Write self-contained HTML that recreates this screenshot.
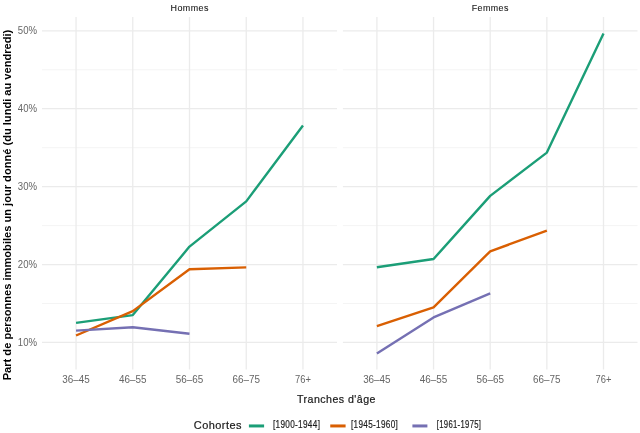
<!DOCTYPE html><html><head><meta charset="utf-8"><style>html,body{margin:0;padding:0;background:#fff;}svg{display:block;will-change:transform;}text{font-family:"Liberation Sans",sans-serif;}</style></head><body>
<svg width="640" height="433" viewBox="0 0 640 433">
<rect width="640" height="433" fill="#fff"/>
<line x1="42.0" x2="337.0" y1="303.50" y2="303.50" stroke="#EBEBEB" stroke-width="0.55"/>
<line x1="42.0" x2="337.0" y1="225.58" y2="225.58" stroke="#EBEBEB" stroke-width="0.55"/>
<line x1="42.0" x2="337.0" y1="147.67" y2="147.67" stroke="#EBEBEB" stroke-width="0.55"/>
<line x1="42.0" x2="337.0" y1="69.76" y2="69.76" stroke="#EBEBEB" stroke-width="0.55"/>
<line x1="42.0" x2="337.0" y1="342.45" y2="342.45" stroke="#EBEBEB" stroke-width="1.3"/>
<line x1="42.0" x2="337.0" y1="264.54" y2="264.54" stroke="#EBEBEB" stroke-width="1.3"/>
<line x1="42.0" x2="337.0" y1="186.63" y2="186.63" stroke="#EBEBEB" stroke-width="1.3"/>
<line x1="42.0" x2="337.0" y1="108.72" y2="108.72" stroke="#EBEBEB" stroke-width="1.3"/>
<line x1="42.0" x2="337.0" y1="30.81" y2="30.81" stroke="#EBEBEB" stroke-width="1.3"/>
<line x1="76.04" x2="76.04" y1="17.0" y2="369.5" stroke="#EBEBEB" stroke-width="1.3"/>
<line x1="132.77" x2="132.77" y1="17.0" y2="369.5" stroke="#EBEBEB" stroke-width="1.3"/>
<line x1="189.50" x2="189.50" y1="17.0" y2="369.5" stroke="#EBEBEB" stroke-width="1.3"/>
<line x1="246.23" x2="246.23" y1="17.0" y2="369.5" stroke="#EBEBEB" stroke-width="1.3"/>
<line x1="302.96" x2="302.96" y1="17.0" y2="369.5" stroke="#EBEBEB" stroke-width="1.3"/>
<line x1="342.9" x2="637.5" y1="303.50" y2="303.50" stroke="#EBEBEB" stroke-width="0.55"/>
<line x1="342.9" x2="637.5" y1="225.58" y2="225.58" stroke="#EBEBEB" stroke-width="0.55"/>
<line x1="342.9" x2="637.5" y1="147.67" y2="147.67" stroke="#EBEBEB" stroke-width="0.55"/>
<line x1="342.9" x2="637.5" y1="69.76" y2="69.76" stroke="#EBEBEB" stroke-width="0.55"/>
<line x1="342.9" x2="637.5" y1="342.45" y2="342.45" stroke="#EBEBEB" stroke-width="1.3"/>
<line x1="342.9" x2="637.5" y1="264.54" y2="264.54" stroke="#EBEBEB" stroke-width="1.3"/>
<line x1="342.9" x2="637.5" y1="186.63" y2="186.63" stroke="#EBEBEB" stroke-width="1.3"/>
<line x1="342.9" x2="637.5" y1="108.72" y2="108.72" stroke="#EBEBEB" stroke-width="1.3"/>
<line x1="342.9" x2="637.5" y1="30.81" y2="30.81" stroke="#EBEBEB" stroke-width="1.3"/>
<line x1="376.89" x2="376.89" y1="17.0" y2="369.5" stroke="#EBEBEB" stroke-width="1.3"/>
<line x1="433.55" x2="433.55" y1="17.0" y2="369.5" stroke="#EBEBEB" stroke-width="1.3"/>
<line x1="490.20" x2="490.20" y1="17.0" y2="369.5" stroke="#EBEBEB" stroke-width="1.3"/>
<line x1="546.85" x2="546.85" y1="17.0" y2="369.5" stroke="#EBEBEB" stroke-width="1.3"/>
<line x1="603.51" x2="603.51" y1="17.0" y2="369.5" stroke="#EBEBEB" stroke-width="1.3"/>
<polyline points="76.04,322.90 132.77,315.10 189.50,246.60 246.23,201.40 302.96,125.50" fill="none" stroke="#1B9E77" stroke-width="2.4" stroke-linejoin="round" stroke-linecap="butt"/>
<polyline points="76.04,335.50 132.77,311.10 189.50,269.30 246.23,267.40" fill="none" stroke="#D95F02" stroke-width="2.4" stroke-linejoin="round" stroke-linecap="butt"/>
<polyline points="76.04,330.60 132.77,327.30 189.50,333.70" fill="none" stroke="#7570B3" stroke-width="2.4" stroke-linejoin="round" stroke-linecap="butt"/>
<polyline points="376.89,267.20 433.55,259.00 490.20,195.90 546.85,152.60 603.51,33.40" fill="none" stroke="#1B9E77" stroke-width="2.4" stroke-linejoin="round" stroke-linecap="butt"/>
<polyline points="376.89,326.20 433.55,307.30 490.20,251.30 546.85,230.70" fill="none" stroke="#D95F02" stroke-width="2.4" stroke-linejoin="round" stroke-linecap="butt"/>
<polyline points="376.89,353.40 433.55,317.40 490.20,293.40" fill="none" stroke="#7570B3" stroke-width="2.4" stroke-linejoin="round" stroke-linecap="butt"/>
<text x="189.7" y="10.9" font-size="9.9" fill="#1A1A1A" stroke="#1A1A1A" stroke-width="0.12" letter-spacing="0.5" text-anchor="middle" textLength="38.4" lengthAdjust="spacingAndGlyphs">Hommes</text>
<text x="490.3" y="10.9" font-size="9.9" fill="#1A1A1A" stroke="#1A1A1A" stroke-width="0.12" letter-spacing="0.5" text-anchor="middle" textLength="37.2" lengthAdjust="spacingAndGlyphs">Femmes</text>
<text x="37" y="346.05" font-size="10.0" fill="#666" text-anchor="end" textLength="19.2" lengthAdjust="spacingAndGlyphs">10%</text>
<text x="37" y="268.14" font-size="10.0" fill="#666" text-anchor="end" textLength="19.2" lengthAdjust="spacingAndGlyphs">20%</text>
<text x="37" y="190.23" font-size="10.0" fill="#666" text-anchor="end" textLength="19.2" lengthAdjust="spacingAndGlyphs">30%</text>
<text x="37" y="112.32" font-size="10.0" fill="#666" text-anchor="end" textLength="19.2" lengthAdjust="spacingAndGlyphs">40%</text>
<text x="37" y="34.41" font-size="10.0" fill="#666" text-anchor="end" textLength="19.2" lengthAdjust="spacingAndGlyphs">50%</text>
<text x="76.04" y="382.6" font-size="10.6" fill="#666" text-anchor="middle" textLength="27.5" lengthAdjust="spacingAndGlyphs">36–45</text>
<text x="132.77" y="382.6" font-size="10.6" fill="#666" text-anchor="middle" textLength="27.5" lengthAdjust="spacingAndGlyphs">46–55</text>
<text x="189.50" y="382.6" font-size="10.6" fill="#666" text-anchor="middle" textLength="27.5" lengthAdjust="spacingAndGlyphs">56–65</text>
<text x="246.23" y="382.6" font-size="10.6" fill="#666" text-anchor="middle" textLength="27.5" lengthAdjust="spacingAndGlyphs">66–75</text>
<text x="302.96" y="382.6" font-size="10.6" fill="#666" text-anchor="middle" textLength="15.9" lengthAdjust="spacingAndGlyphs">76+</text>
<text x="376.89" y="382.6" font-size="10.6" fill="#666" text-anchor="middle" textLength="27.5" lengthAdjust="spacingAndGlyphs">36–45</text>
<text x="433.55" y="382.6" font-size="10.6" fill="#666" text-anchor="middle" textLength="27.5" lengthAdjust="spacingAndGlyphs">46–55</text>
<text x="490.20" y="382.6" font-size="10.6" fill="#666" text-anchor="middle" textLength="27.5" lengthAdjust="spacingAndGlyphs">56–65</text>
<text x="546.85" y="382.6" font-size="10.6" fill="#666" text-anchor="middle" textLength="27.5" lengthAdjust="spacingAndGlyphs">66–75</text>
<text x="603.51" y="382.6" font-size="10.6" fill="#666" text-anchor="middle" textLength="15.9" lengthAdjust="spacingAndGlyphs">76+</text>
<text x="297.0" y="402.8" font-size="11.8" fill="#1A1A1A" stroke="#1A1A1A" stroke-width="0.22" letter-spacing="0.5" textLength="78.9" lengthAdjust="spacingAndGlyphs">Tranches d'âge</text>
<text transform="translate(11.1,380.3) rotate(-90)" x="0" y="0" font-size="11.3" font-weight="bold" fill="#000" textLength="350.6" lengthAdjust="spacingAndGlyphs">Part de personnes immobiles un jour donné (du lundi au vendredi)</text>
<text x="193.75" y="428.8" font-size="11.7" fill="#1A1A1A" stroke="#1A1A1A" stroke-width="0.22" letter-spacing="0.5" textLength="48.2" lengthAdjust="spacingAndGlyphs">Cohortes</text>
<line x1="248.9" x2="264.1" y1="425.95" y2="425.95" stroke="#1B9E77" stroke-width="3.0"/>
<text x="272.9" y="427.7" font-size="10.4" fill="#1A1A1A" stroke="#1A1A1A" stroke-width="0.18" letter-spacing="0.4" textLength="47.35" lengthAdjust="spacingAndGlyphs">[1900-1944]</text>
<line x1="330.25" x2="345.6" y1="425.95" y2="425.95" stroke="#D95F02" stroke-width="3.0"/>
<text x="351.0" y="427.7" font-size="10.4" fill="#1A1A1A" stroke="#1A1A1A" stroke-width="0.18" letter-spacing="0.4" textLength="47.10" lengthAdjust="spacingAndGlyphs">[1945-1960]</text>
<line x1="412.4" x2="427.4" y1="425.95" y2="425.95" stroke="#7570B3" stroke-width="3.0"/>
<text x="436.8" y="427.7" font-size="10.4" fill="#1A1A1A" stroke="#1A1A1A" stroke-width="0.18" letter-spacing="0.4" textLength="44.50" lengthAdjust="spacingAndGlyphs">[1961-1975]</text>
</svg></body></html>
